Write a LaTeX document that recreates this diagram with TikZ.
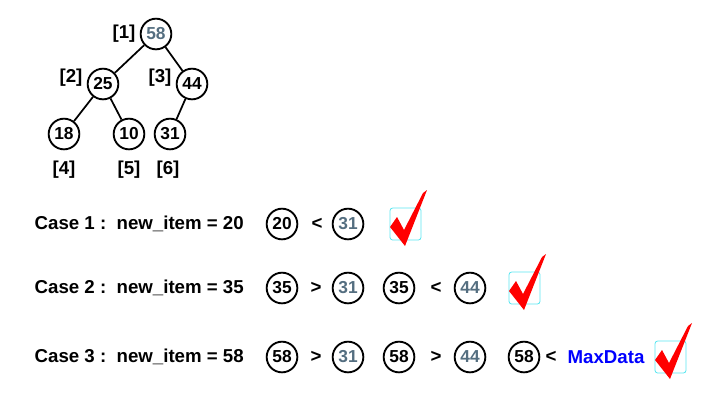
\documentclass[tikz,border=0pt]{standalone}
\usepackage{fontspec}
\setmainfont{Liberation Sans}
\usepackage{tikz}
\usetikzlibrary{calc}

\definecolor{slate}{RGB}{84,110,128}
\definecolor{boxcyan}{RGB}{90,230,240}
\newcommand\bigbf{\fontsize{14}{16}\selectfont\bfseries}
\newcommand\keybf{\fontsize{13}{15}\selectfont\bfseries}

\tikzset{
  key/.style={circle,draw,line width=1.4pt,minimum size=23pt,inner sep=0pt,font=\keybf},
  idx/.style={font=\bigbf},
  txt/.style={font=\bigbf,anchor=west},
  tickbox/.pic={
    \draw[boxcyan,line width=0.6pt,rounded corners=2pt] (0,0) rectangle (31,32);
    \fill[red] (0,19) -- (7,9) -- (14,22) -- (33,-15) -- (37,-18) -- (15,38) -- cycle;
  }
}

\begin{document}
\begin{tikzpicture}[x=0.75pt,y=-0.75pt]
  \useasboundingbox (0,0) rectangle (709,408);

  %% The heap as a tree
  \node[key,text=slate] (K1) at (156,34)  {58};
  \node[key]            (K2) at (103,84)  {25};
  \node[key]            (K3) at (192,84)  {44};
  \node[key]            (K4) at (64,134)  {18};
  \node[key]            (K5) at (129,134) {10};
  \node[key]            (K6) at (170,134) {31};
  \foreach \a/\b in {1/2,1/3,2/4,2/5,3/6}
    \draw[line width=1.3pt] (K\a) -- (K\b);

  %% Array positions
  \node[idx] (I1) at (124,34)  {[1]};
  \node[idx] (I2) at (71,78)   {[2]};
  \node[idx] (I3) at (160,78)  {[3]};
  \node[idx] (I4) at (64,170)  {[4]};
  \node[idx] (I5) at (129,170) {[5]};
  \node[idx] (I6) at (168,170) {[6]};

  %% Case 1
  \node[txt] (C1) at (30,224) {Case 1 :\ \ new\_item = 20};
  \node[key] (A1) at (282,224) {20};
  \node[idx] (L1) at (317,224) {<};
  \node[key,text=slate] (B1) at (348,224) {31};
  \pic at (390,208) {tickbox};

  %% Case 2
  \node[txt] (C2) at (30,288) {Case 2 :\ \ new\_item = 35};
  \node[key] (A2) at (282,288) {35};
  \node[idx] (G2) at (316,288) {>};
  \node[key,text=slate] (B2) at (348,288) {31};
  \node[key] (D2) at (399,288) {35};
  \node[idx] (L2) at (436,288) {<};
  \node[key,text=slate] (E2) at (470,288) {44};
  \pic at (509,272) {tickbox};

  %% Case 3
  \node[txt] (C3) at (30,357) {Case 3 :\ \ new\_item = 58};
  \node[key] (A3) at (282,357) {58};
  \node[idx] (G3) at (316,357) {>};
  \node[key,text=slate] (B3) at (348,357) {31};
  \node[key] (D3) at (399,357) {58};
  \node[idx] (H3) at (436,357) {>};
  \node[key,text=slate] (E3) at (470,357) {44};
  \node[key] (F3) at (524,357) {58};
  \node[idx] (L3) at (551,357) {<};
  \node[font=\bigbf,text=blue] (MAX) at (606,357) {MaxData};
  \pic at (655,341) {tickbox};
\end{tikzpicture}
\end{document}
